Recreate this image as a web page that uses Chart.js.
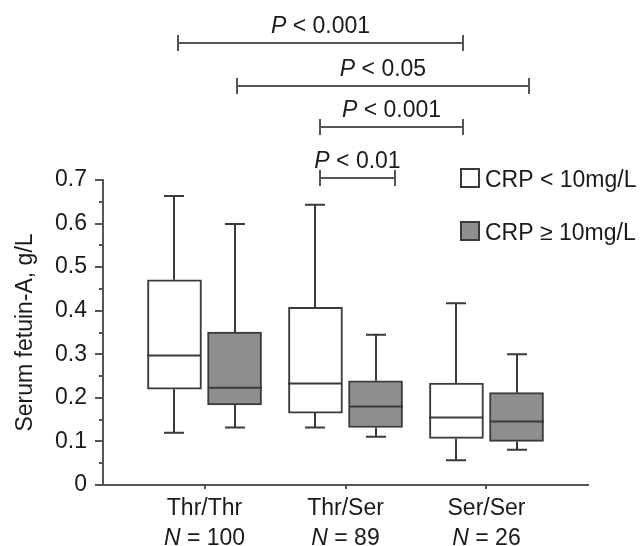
<!DOCTYPE html>
<html>
<head>
<meta charset="utf-8">
<script src="https://cdn.jsdelivr.net/npm/chart.js@4.4.1/dist/chart.umd.min.js"></script>
<style>
  html, body { margin: 0; padding: 0; background: #fff; }
</style>
</head>
<body>
<canvas id="chart" width="643" height="546"></canvas>
<script>
// Groups on the x axis
const groups = ['Thr/Thr', 'Thr/Ser', 'Ser/Ser'];
const groupN = [100, 89, 26];

// CRP < 10mg/L (white boxes)
const lowMin = [0.120, 0.132, 0.057];
const lowQ1 = [0.220, 0.165, 0.107];
const lowMedian = [0.297, 0.233, 0.155];
const lowQ3 = [0.471, 0.408, 0.234];
const lowMax = [0.663, 0.643, 0.417];

// CRP >= 10mg/L (grey boxes)
const highMin = [0.132, 0.111, 0.081];
const highQ1 = [0.184, 0.132, 0.100];
const highMedian = [0.223, 0.180, 0.146];
const highQ3 = [0.351, 0.239, 0.212];
const highMax = [0.599, 0.345, 0.300];

const seriesLabels = ['CRP < 10mg/L', 'CRP \u2265 10mg/L'];
const yTicks = [0, 0.1, 0.2, 0.3, 0.4, 0.5, 0.6, 0.7];
const yMinorTicks = [0.05, 0.15, 0.25, 0.35, 0.45, 0.55, 0.65];

// Significance brackets (x in group units, level in g/L units)
const sigFrom = [-0.19, 0.23, 0.82, 0.82];
const sigTo = [1.83, 2.30, 1.83, 1.35];
const sigLevel = [1.014, 0.916, 0.822, 0.705];
const sigText = ['< 0.001', '< 0.05', '< 0.001', '< 0.01'];

const FONT = "'Liberation Sans', Arial, sans-serif";
const TEXT = '#1a1a1a';
const LINE = '#3a3a3a';
const AXIS = '#555';
const boxOffset = 0.213;

function boxData(q1, q3, sign) {
    return groups.map((g, i) => ({ x: i + sign * boxOffset, y: [q1[i], q3[i]] }));
}

// draws "P" in italics followed by the rest, centred on cx
function drawItalicLead(ctx, lead, rest, cx, y) {
    ctx.font = 'italic 23px ' + FONT;
    const w1 = ctx.measureText(lead).width;
    ctx.font = '23px ' + FONT;
    const w2 = ctx.measureText(rest).width;
    const x0 = cx - (w1 + w2) / 2;
    ctx.textAlign = 'left';
    ctx.textBaseline = 'alphabetic';
    ctx.font = 'italic 23px ' + FONT;
    ctx.fillText(lead, x0, y);
    ctx.font = '23px ' + FONT;
    ctx.fillText(rest, x0 + w1, y);
}

const boxPlugin = {
    id: 'boxWhiskers',
    afterDatasetsDraw(chart) {
        const { ctx, scales: { y } } = chart;
        const stats = [
            [lowMin, lowMedian, lowMax, lowQ1, lowQ3],
            [highMin, highMedian, highMax, highQ1, highQ3]
        ];
        ctx.save();
        ctx.strokeStyle = LINE;
        ctx.lineWidth = 2;
        chart.data.datasets.forEach((ds, d) => {
            const [mins, meds, maxs, q1s, q3s] = stats[d];
            chart.getDatasetMeta(d).data.forEach((bar, i) => {
                const cx = Math.round(bar.x);
                const half = bar.width / 2;
                const yMax = y.getPixelForValue(maxs[i]);
                const yMin = y.getPixelForValue(mins[i]);
                const yQ1 = y.getPixelForValue(q1s[i]);
                const yQ3 = y.getPixelForValue(q3s[i]);
                const yMed = y.getPixelForValue(meds[i]);
                ctx.beginPath();
                // upper whisker
                ctx.moveTo(cx, yQ3); ctx.lineTo(cx, yMax);
                ctx.moveTo(cx - 10, yMax); ctx.lineTo(cx + 10, yMax);
                // lower whisker
                ctx.moveTo(cx, yQ1); ctx.lineTo(cx, yMin);
                ctx.moveTo(cx - 10, yMin); ctx.lineTo(cx + 10, yMin);
                // median
                ctx.moveTo(cx - half, yMed); ctx.lineTo(cx + half, yMed);
                ctx.stroke();
            });
        });
        ctx.restore();
    },
    afterDraw(chart) {
        const { ctx, chartArea, scales: { x, y } } = chart;
        ctx.save();

        // minor ticks on y axis
        ctx.strokeStyle = AXIS;
        ctx.lineWidth = 2;
        ctx.beginPath();
        yMinorTicks.forEach(v => {
            const py = Math.round(y.getPixelForValue(v));
            ctx.moveTo(chartArea.left - 4, py);
            ctx.lineTo(chartArea.left, py);
        });
        ctx.stroke();

        // x labels with italic N
        ctx.fillStyle = TEXT;
        groups.forEach((g, i) => {
            const px = x.getPixelForValue(i);
            ctx.font = '23px ' + FONT;
            ctx.textAlign = 'center';
            ctx.textBaseline = 'alphabetic';
            ctx.fillText(g, px, chartArea.bottom + 30);
            drawItalicLead(ctx, 'N', ' = ' + groupN[i], px, chartArea.bottom + 60);
        });

        // significance brackets
        ctx.strokeStyle = AXIS;
        ctx.lineWidth = 2;
        sigText.forEach((t, k) => {
            const x1 = Math.round(x.getPixelForValue(sigFrom[k]));
            const x2 = Math.round(x.getPixelForValue(sigTo[k]));
            const py = Math.round(y.getPixelForValue(sigLevel[k]));
            ctx.beginPath();
            ctx.moveTo(x1, py); ctx.lineTo(x2, py);
            ctx.moveTo(x1, py - 8); ctx.lineTo(x1, py + 8);
            ctx.moveTo(x2, py - 8); ctx.lineTo(x2, py + 8);
            ctx.stroke();
            ctx.fillStyle = TEXT;
            drawItalicLead(ctx, 'P', ' ' + t, (x1 + x2) / 2, py - 10);
        });

        // legend
        const fills = chart.data.datasets.map(ds => ds.backgroundColor);
        const lx = chartArea.right - 127;
        chart.data.datasets.forEach((ds, d) => {
            const top = chartArea.top - 11 + d * 53;
            ctx.fillStyle = fills[d];
            ctx.fillRect(lx, top, 18, 18);
            ctx.strokeStyle = LINE;
            ctx.lineWidth = 2;
            ctx.strokeRect(lx, top, 18, 18);
            ctx.fillStyle = TEXT;
            ctx.font = '23px ' + FONT;
            ctx.textAlign = 'left';
            ctx.textBaseline = 'alphabetic';
            ctx.fillText(ds.label, lx + 24, top + 18);
        });
        ctx.restore();
    }
};

const chart = new Chart(document.getElementById('chart'), {
    type: 'bar',
    data: {
        datasets: [
            {
                label: seriesLabels[0],
                data: boxData(lowQ1, lowQ3, -1),
                backgroundColor: '#ffffff',
                borderColor: LINE,
                borderWidth: 2,
                borderSkipped: false,
                barThickness: 54,
                grouped: false
            },
            {
                label: seriesLabels[1],
                data: boxData(highQ1, highQ3, 1),
                backgroundColor: '#8f8f8f',
                borderColor: LINE,
                borderWidth: 2,
                borderSkipped: false,
                barThickness: 54,
                grouped: false
            }
        ]
    },
    options: {
        responsive: false,
        animation: false,
        devicePixelRatio: 1,
        layout: { padding: { top: 180, right: 55, bottom: 57, left: 0 } },
        plugins: { legend: { display: false }, tooltip: { enabled: false } },
        scales: {
            x: {
                type: 'linear',
                min: -0.72,
                max: 2.72,
                offset: false,
                afterBuildTicks: s => { s.ticks = groups.map((g, i) => ({ value: i })); },
                ticks: { display: false },
                grid: { offset: false, drawOnChartArea: false, drawTicks: true, tickLength: 4, color: AXIS, lineWidth: 2 },
                border: { color: AXIS, width: 2 }
            },
            y: {
                min: 0,
                max: 0.7,
                afterBuildTicks: s => { s.ticks = yTicks.map(v => ({ value: v })); },
                afterFit: s => { s.width = 103; },
                ticks: {
                    color: TEXT,
                    padding: 8,
                    font: { family: FONT, size: 23 },
                    callback: v => (v === 0 ? '0' : v.toFixed(1))
                },
                grid: { drawOnChartArea: false, drawTicks: true, tickLength: 8, color: AXIS, lineWidth: 2 },
                border: { color: AXIS, width: 2 },
                title: {
                    display: true,
                    text: 'Serum fetuin-A, g/L',
                    color: TEXT,
                    font: { family: FONT, size: 23 },
                    padding: { top: 12, bottom: 0 }
                }
            }
        }
    },
    plugins: [boxPlugin]
});
</script>
</body>
</html>
